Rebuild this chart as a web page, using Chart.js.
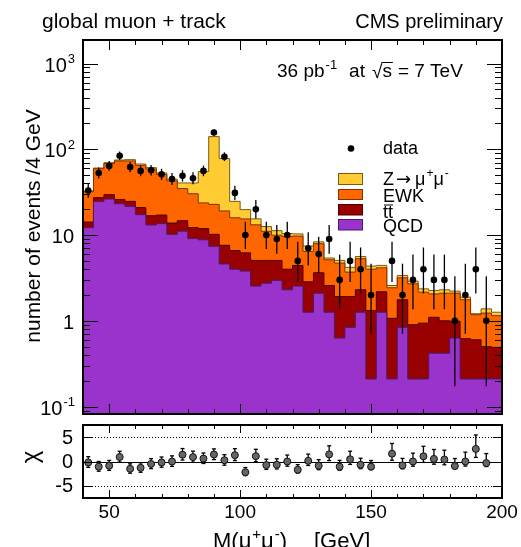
<!DOCTYPE html>
<html>
<head>
<meta charset="utf-8">
<script src="https://cdn.jsdelivr.net/npm/chart.js@4.4.0/dist/chart.umd.min.js"></script>
<style>
  body { margin: 0; background: #fff; }
  #wrap { position: relative; width: 521px; height: 547px; overflow: hidden; background: #fff; }
  canvas { position: absolute; left: 0; }
  #main { top: 0; }
  #pull { top: 420px; }
</style>
</head>
<body>
<div id="wrap">
  <canvas id="main" width="521" height="420"></canvas>
  <canvas id="pull" width="521" height="127"></canvas>
</div>
<script>
const FONT = '"Liberation Sans", Arimo, Helvetica, Arial, sans-serif';

// 4 GeV bins in M(mu+mu-)
const binEdges = [40, 44, 48, 52, 56, 60, 64, 68, 72, 76, 80, 84, 88, 92, 96, 100, 104, 108, 112, 116,
  120, 124, 128, 132, 136, 140, 144, 148, 152, 156, 160, 164, 168, 172, 176, 180, 184, 188, 192, 196, 200];

// expected events per bin for each process (stacked QCD, ttbar, EWK, Z)
const qcd = [12.2, 24.7, 26.3, 23.2, 21.6, 17.3, 13.1, 13.6, 10.2, 11.1, 9.1, 8.8, 7.4, 4.6, 4.0, 3.8, 2.54, 2.75, 2.96, 2.3,
  2.54, 1.26, 2.1, 1.26, 0.63, 0.84, 1.26, 0.21, 1.26, 0.21, 0.84, 0.21, 0.21, 0.42, 0.42, 0.63, 0.21, 0.21, 0.21, 0.21];
const ttbar = [2.0, 2.6, 3.3, 2.8, 3.1, 3.6, 3.7, 3.5, 3.6, 3.6, 3.1, 3.1, 2.8, 3.0, 2.6, 2.4, 2.52, 2.31, 2.1, 1.7,
  1.88, 1.59, 1.53, 1.32, 1.29, 1.08, 1.04, 1.11, 0.92, 0.86, 0.92, 0.69, 0.73, 0.68, 0.58, 0.36, 0.41, 0.39, 0.29, 0.28];
const ewk = [17.8, 32.1, 38.5, 47.1, 48.4, 44.1, 42.1, 33.9, 28.9, 20.1, 18.1, 11.8, 12.6, 11.5, 9.3, 9.2, 8.1, 6.0, 4.9, 5.6,
  5.3, 3.6, 4.3, 2.57, 2.79, 1.78, 3.0, 2.68, 1.97, 1.36, 1.41, 1.8, 1.22, 0.96, 1.1, 1.11, 1.14, 0.58, 0.73, 0.66];
const zmumu = [0.7, 1.1, 1.7, 1.9, 2.6, 2.4, 2.2, 2.0, 2.0, 5.7, 10.2, 31.3, 117.7, 58.9, 8.8, 4.4, 2.3, 1.5, 1.3, 0.8,
  0.6, 1.0, 0.4, 0.25, 0.35, 0.5, 0.33, 0.35, 0.28, 0.15, 0.21, 0.2, 0.2, 0.2, 0.2, 0.12, 0.13, 0.03, 0.15, 0.11];

// observed events
const observed = [33, 53, 64, 84, 62, 56, 57, 51, 45, 49, 46, 56, 157, 82, 31, 10, 20, 10, 9, 10,
  5, 7, 6, 9, 3, 5, 4, 2, 0, 5, 2, 3, 4, 3, 3, 1, 2, 4, 1, 0];

// pull per bin (empty bins are not shown)
const chi = [-0.2, -1.06, -0.86, 0.93, -1.5, -1.3, -0.5, -0.2, 0.0, 1.4, 0.9, 0.6, 1.45, 0.26, 1.3, -2.2, 1.1, -0.73, -0.66, 0.0,
  -1.7, 0.13, -0.86, 1.46, -1.06, 0.46, -0.66, -1.06, null, 1.6, -0.8, 0.0, 1.06, 0.53, 0.4, -0.93, 0.0, 2.58, -0.33, null];

// axis labels
const xTickLabels = [50, 100, 150, 200];
const yDecades = [0.1, 1, 10, 100, 1000];
const yDecadeLabels = [['10', '-1'], ['1', ''], ['10', ''], ['10', '2'], ['10', '3']];
const chiTicks = [-5, 0, 5];

const colors = {
  z: ['#ffcc33', '#7a5a10'],
  ewk: ['#ff6600', '#7f3300'],
  tt: ['#990000', '#4d0000'],
  qcd: ['#9933cc', '#4d1a66']
};

const nBins = qcd.length;
const binCentres = qcd.map((_, i) => (binEdges[i] + binEdges[i + 1]) / 2);

// cumulative tops of the stack
function addUp(a, b) { return a.map((v, i) => v + b[i]); }
const qcdTop = qcd.slice();
const ttTop = addUp(qcdTop, ttbar);
const ewkTop = addUp(ttTop, ewk);
const totalMC = addUp(ewkTop, zmumu);

function stepPoints(tops) {
  return binEdges.map((x, i) => ({ x: x, y: tops[Math.min(i, nBins - 1)] }));
}

// Garwood 68% interval for a Poisson count
function poissonCdf(k, mu) {
  let term = Math.exp(-mu), sum = term;
  for (let i = 1; i <= k; i++) { term *= mu / i; sum += term; }
  return sum;
}
function garwood(n) {
  const a = 0.158655;
  let lo = 0;
  if (n > 0) {
    let l = 0, h = n;
    for (let it = 0; it < 60; it++) {
      const m = (l + h) / 2;
      if (1 - poissonCdf(n - 1, m) > a) h = m; else l = m;
    }
    lo = (l + h) / 2;
  }
  let l = n, h = n + 10 * Math.sqrt(n) + 10;
  for (let it = 0; it < 60; it++) {
    const m = (l + h) / 2;
    if (poissonCdf(n, m) > a) l = m; else h = m;
  }
  return [lo, (l + h) / 2];
}
const dataErr = observed.map(n => garwood(n));

function line(ctx, x1, y1, x2, y2) {
  ctx.beginPath(); ctx.moveTo(x1, y1); ctx.lineTo(x2, y2); ctx.stroke();
}

// text with a superscript tail, returns end x
function supText(ctx, base, sup, x, y, size, align) {
  ctx.font = `${size}px ${FONT}`;
  const wb = ctx.measureText(base).width;
  ctx.font = `${Math.round(size * 0.66)}px ${FONT}`;
  const ws = sup ? ctx.measureText(sup).width : 0;
  let x0 = align === 'right' ? x - wb - ws : x;
  ctx.textAlign = 'left';
  ctx.font = `${size}px ${FONT}`;
  ctx.fillText(base, x0, y);
  if (sup) {
    ctx.font = `${Math.round(size * 0.66)}px ${FONT}`;
    ctx.fillText(sup, x0 + wb + 1, y - size * 0.42);
  }
  return x0 + wb + ws;
}

const mainDecor = {
  id: 'mainDecor',
  beforeDatasetDraw(chart, args) {
    if (chart.data.datasets[args.index].label !== 'data') return;
    const ctx = chart.ctx, a = chart.chartArea;
    const xs = chart.scales.x, ys = chart.scales.y;
    ctx.save();
    ctx.beginPath(); ctx.rect(a.left, a.top, a.right - a.left, a.bottom - a.top); ctx.clip();
    ctx.strokeStyle = '#000';
    ctx.lineWidth = 1.3;
    observed.forEach((n, i) => {
      if (n <= 0) return;
      const px = xs.getPixelForValue(binCentres[i]);
      const lo = Math.max(dataErr[i][0], ys.min);
      line(ctx, px, ys.getPixelForValue(lo), px, ys.getPixelForValue(dataErr[i][1]));
    });
    ctx.restore();
  },
  afterDraw(chart) {
    const ctx = chart.ctx, a = chart.chartArea;
    const xs = chart.scales.x, ys = chart.scales.y;
    ctx.save();
    ctx.strokeStyle = '#000';
    ctx.lineWidth = 1;
    // x ticks, bottom and top
    for (let v = 50; v < 200; v += 10) {
      const px = Math.round(xs.getPixelForValue(v)) + 0.5;
      const len = v % 50 === 0 ? 10 : 5;
      line(ctx, px, a.bottom, px, a.bottom - len);
      line(ctx, px, a.top, px, a.top + len);
    }
    // log y ticks, left and right
    for (let d = -2; d <= 3; d++) {
      for (let k = 1; k <= 9; k++) {
        const v = k * Math.pow(10, d);
        if (v <= ys.min || v >= ys.max) continue;
        const py = Math.round(ys.getPixelForValue(v)) + 0.5;
        const len = k === 1 ? 15 : 7;
        line(ctx, a.left, py, a.left + len, py);
        line(ctx, a.right, py, a.right - len, py);
      }
    }
    ctx.lineWidth = 2;
    ctx.strokeRect(a.left, a.top, a.right - a.left, a.bottom - a.top);

    ctx.fillStyle = '#000';
    ctx.textBaseline = 'alphabetic';
    // y tick labels
    yDecades.forEach((v, i) => {
      const py = ys.getPixelForValue(v);
      supText(ctx, yDecadeLabels[i][0], yDecadeLabels[i][1], 74, py + 8, 20, 'right');
    });

    // titles
    ctx.font = `21px ${FONT}`;
    ctx.textAlign = 'left';
    ctx.fillText('global muon + track', 42, 28);
    ctx.font = `20px ${FONT}`;
    ctx.textAlign = 'right';
    ctx.fillText('CMS preliminary', 503, 28);

    // y axis title
    ctx.save();
    ctx.translate(40, 226);
    ctx.rotate(-Math.PI / 2);
    ctx.textAlign = 'center';
    ctx.font = `21px ${FONT}`;
    ctx.fillText('number of events /4 GeV', 0, 0);
    ctx.restore();

    // luminosity and energy
    ctx.textAlign = 'left';
    let x = supText(ctx, '36 pb', '-1', 277, 77, 19);
    ctx.font = `19px ${FONT}`;
    ctx.fillText('at', x + 13, 77);
    x += 13 + ctx.measureText('at').width + 7;
    ctx.fillText('\u221a', x, 78);
    const xr = x + ctx.measureText('\u221a').width;
    ctx.fillText('s', xr, 77);
    const xs2 = xr + ctx.measureText('s').width;
    ctx.lineWidth = 1;
    line(ctx, xr - 1, 62.5, xs2 + 1, 62.5);
    ctx.fillText('= 7 TeV', xs2 + 6, 77);

    // legend
    ctx.beginPath();
    ctx.arc(351, 148.5, 3.3, 0, 2 * Math.PI);
    ctx.fill();
    ctx.font = `18px ${FONT}`;
    ctx.fillText('data', 383, 154);
    const boxes = [
      [colors.z, 173.5, 184.5],
      [colors.ewk, 189.5, 199.5],
      [colors.tt, 204.5, 215],
      [colors.qcd, 219.5, 230]
    ];
    boxes.forEach(([c, y0, y1]) => {
      ctx.fillStyle = c[0];
      ctx.fillRect(338, y0, 25, y1 - y0);
      ctx.strokeStyle = c[1];
      ctx.lineWidth = 1;
      ctx.strokeRect(338.5, y0, 24, y1 - y0);
    });
    ctx.fillStyle = '#000';
    ctx.strokeStyle = '#000';
    ctx.font = `18px ${FONT}`;
    ctx.fillText('Z', 383, 185);
    ctx.font = `18px "DejaVu Sans", ${FONT}`;
    ctx.fillText('\u2192', 396, 185);
    x = 396 + ctx.measureText('\u2192').width + 4;
    x = supText(ctx, '\u03bc', '+', x, 185, 18);
    supText(ctx, '\u03bc', '-', x + 1, 185, 18);
    ctx.font = `18px ${FONT}`;
    ctx.fillText('EWK', 383, 201.5);
    ctx.fillText('tt', 383, 218);
    line(ctx, 384, 205, 393, 205);
    ctx.fillText('QCD', 383, 231.5);
    ctx.restore();
  }
};

const pullDecor = {
  id: 'pullDecor',
  beforeDatasetsDraw(chart) {
    const ctx = chart.ctx, a = chart.chartArea;
    const ys = chart.scales.y;
    ctx.save();
    ctx.strokeStyle = '#000';
    ctx.lineWidth = 1;
    ctx.setLineDash([1, 2]);
    [5, -5].forEach(v => {
      const py = Math.round(ys.getPixelForValue(v)) + 0.5;
      line(ctx, a.left, py, a.right, py);
    });
    ctx.setLineDash([]);
    const p0 = Math.round(ys.getPixelForValue(0)) + 0.5;
    line(ctx, a.left, p0, a.right, p0);
    ctx.restore();
  },
  beforeDatasetDraw(chart) {
    const ctx = chart.ctx;
    const xs = chart.scales.x, ys = chart.scales.y;
    ctx.save();
    ctx.strokeStyle = '#000';
    ctx.lineWidth = 1.3;
    chi.forEach((c, i) => {
      if (c === null) return;
      const n = observed[i], s = Math.sqrt(totalMC[i]);
      const up = (dataErr[i][1] - n) / s, dn = (n - dataErr[i][0]) / s;
      const px = xs.getPixelForValue(binCentres[i]);
      const yt = ys.getPixelForValue(c + up), yb = ys.getPixelForValue(c - dn);
      line(ctx, px, yt, px, yb);
      line(ctx, px - 2, yt, px + 2, yt);
      line(ctx, px - 2, yb, px + 2, yb);
    });
    ctx.restore();
  },
  afterDraw(chart) {
    const ctx = chart.ctx, a = chart.chartArea;
    const xs = chart.scales.x, ys = chart.scales.y;
    ctx.save();
    ctx.strokeStyle = '#000';
    ctx.lineWidth = 1;
    for (let v = 50; v < 200; v += 10) {
      const px = Math.round(xs.getPixelForValue(v)) + 0.5;
      const len = v % 50 === 0 ? 8 : 4;
      line(ctx, px, a.bottom, px, a.bottom - len);
      line(ctx, px, a.top, px, a.top + len);
    }
    chiTicks.forEach(v => {
      const py = Math.round(ys.getPixelForValue(v)) + 0.5;
      line(ctx, a.left, py, a.left + 9, py);
      line(ctx, a.right, py, a.right - 9, py);
    });
    ctx.lineWidth = 2;
    ctx.strokeRect(a.left, a.top, a.right - a.left, a.bottom - a.top);

    ctx.fillStyle = '#000';
    ctx.textBaseline = 'middle';
    ctx.textAlign = 'right';
    ctx.font = `20px ${FONT}`;
    chiTicks.forEach(v => ctx.fillText(String(v), 73, ys.getPixelForValue(v) + 1));

    ctx.textBaseline = 'alphabetic';
    ctx.textAlign = 'center';
    ctx.font = `19px ${FONT}`;
    xTickLabels.forEach(v => ctx.fillText(String(v), xs.getPixelForValue(v), 98));

    // chi axis title
    ctx.save();
    ctx.translate(31, 37);
    ctx.rotate(-Math.PI / 2);
    ctx.textAlign = 'center';
    ctx.textBaseline = 'middle';
    ctx.font = `24px ${FONT}`;
    ctx.fillText('\u03c7', 0, 0);
    ctx.restore();

    // x axis title
    ctx.textAlign = 'left';
    ctx.font = `22px ${FONT}`;
    ctx.fillText('M(', 213, 128);
    let x = 213 + ctx.measureText('M(').width;
    x = supText(ctx, '\u03bc', '+', x, 128, 22);
    x = supText(ctx, '\u03bc', '-', x + 1, 128, 22);
    ctx.font = `22px ${FONT}`;
    ctx.fillText(')', x + 1, 128);
    ctx.fillText('[GeV]', 314, 128);
    ctx.restore();
  }
};

function layer(label, tops, c, order) {
  return {
    label: label,
    data: stepPoints(tops),
    stepped: true,
    fill: 'start',
    backgroundColor: c[0],
    borderColor: c[1],
    borderWidth: 1,
    pointRadius: 0,
    order: order
  };
}

new Chart(document.getElementById('main'), {
  type: 'line',
  data: {
    datasets: [
      {
        label: 'data',
        data: observed.map((n, i) => ({ x: binCentres[i], y: n > 0 ? n : null })),
        showLine: false,
        pointRadius: 3.3,
        pointBackgroundColor: '#000',
        pointBorderColor: '#000',
        pointBorderWidth: 0,
        order: 0
      },
      layer('QCD', qcdTop, colors.qcd, 1),
      layer('ttbar', ttTop, colors.tt, 2),
      layer('EWK', ewkTop, colors.ewk, 3),
      layer('Z', totalMC, colors.z, 4)
    ]
  },
  options: {
    responsive: false,
    animation: false,
    devicePixelRatio: 1,
    layout: { padding: { left: 83, right: 19, top: 40, bottom: 6 } },
    plugins: { legend: { display: false }, tooltip: { enabled: false } },
    elements: { line: { tension: 0 } },
    scales: {
      x: { type: 'linear', min: 40, max: 200, display: false },
      y: { type: 'logarithmic', min: 0.082, max: 1880, display: false }
    }
  },
  plugins: [mainDecor]
});

new Chart(document.getElementById('pull'), {
  type: 'line',
  data: {
    datasets: [{
      label: 'chi',
      data: chi.map((c, i) => ({ x: binCentres[i], y: c })),
      showLine: false,
      pointRadius: 3.5,
      pointBackgroundColor: '#666666',
      pointBorderColor: '#111111',
      pointBorderWidth: 1
    }]
  },
  options: {
    responsive: false,
    animation: false,
    devicePixelRatio: 1,
    layout: { padding: { left: 83, right: 19, top: 3, bottom: 49 } },
    plugins: { legend: { display: false }, tooltip: { enabled: false } },
    scales: {
      x: { type: 'linear', min: 40, max: 200, display: false },
      y: { type: 'linear', min: -7.5, max: 7.5, display: false }
    }
  },
  plugins: [pullDecor]
});
</script>
</body>
</html>
